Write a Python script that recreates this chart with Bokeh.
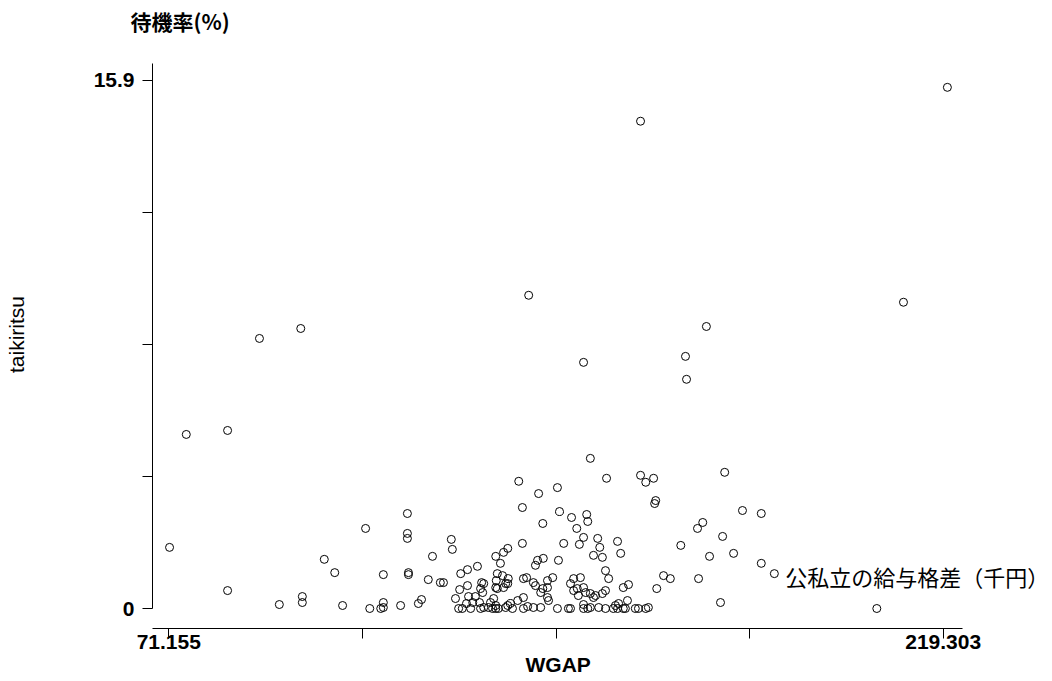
from bokeh.plotting import figure
from bokeh.models import Range1d, FixedTicker, Label, Title
from bokeh.embed import file_html
from bokeh.resources import INLINE

# ---- data ----
wgap = [
    220.1, 161.4, 211.7, 140.0, 96.4, 88.5, 174.0, 150.5, 170.0, 170.2, 74.5, 82.4, 151.8,
    71.3, 82.4, 92.3, 96.7, 96.7, 100.9, 102.9, 104.4,
    108.8, 116.8, 116.8, 116.8, 112.2, 117.0, 117.0, 112.2, 112.2, 111.7, 109.6, 115.5, 119.5, 118.9,
    121.6, 125.2, 125.4, 120.8, 123.1, 123.7,
    127.0, 128.3, 130.2, 131.0, 130.8, 128.3, 126.8, 128.5, 129.8, 129.3, 128.1, 130.6, 126.0, 126.6,
    127.3, 128.9, 130.8, 132.3, 133.1,
    133.7, 134.6, 135.2, 136.0, 138.8, 138.1, 138.8, 135.0, 136.1, 136.0, 134.0, 133.8, 134.0, 135.6,
    135.2, 133.7, 131.4, 131.2, 133.3, 132.7, 133.7, 131.4, 133.7, 134.2, 135.6, 136.5, 137.9, 139.0,
    136.0, 136.9, 139.0, 139.6, 139.8, 140.9, 142.3, 139.0,
    141.9, 145.5, 142.7, 145.9, 146.7, 142.8, 141.7, 141.3, 145.7, 144.6, 143.6, 141.3, 142.7, 142.3,
    143.6, 140.9, 143.6, 143.8, 145.5,
    154.9, 148.2, 151.1, 151.3, 149.2, 150.5, 149.7, 153.2, 153.6, 154.1, 152.4, 157.0, 157.6, 154.7,
    155.3, 149.9, 148.6, 148.0, 149.3, 150.5, 149.5, 151.8, 152.8, 154.7, 158.1, 159.1, 158.9, 157.2,
    148.0, 150.5, 151.3, 153.4, 154.7, 156.6, 157.0, 158.5, 148.6, 150.9, 152.4, 151.8, 150.5, 147.6,
    154.1, 156.2, 158.1,
    161.4, 162.4, 163.9, 164.3, 164.1, 177.5, 180.9, 184.5, 173.3, 172.3, 177.1, 169.1, 179.2, 174.6,
    184.5, 187.0, 165.8, 167.1, 172.5, 164.5, 176.7, 160.4, 162.4, 162.9, 161.0, 206.6,
]
taikiritsu = [
    15.69, 14.67, 9.22, 9.43, 8.43, 8.13, 8.49, 7.41, 7.59, 6.90, 5.24, 5.36, 4.52,
    1.84, 0.54, 0.12, 0.36, 0.18, 1.48, 1.08, 0.09,
    2.41, 2.86, 2.26, 2.11, 1.02, 1.08, 1.02, 0.18, 0.03, 0.0, 0.0, 0.09, 0.27, 0.15,
    1.57, 2.08, 1.78, 0.87, 0.78, 0.78,
    1.05, 1.17, 1.27, 0.78, 0.60, 0.69, 0.57, 0.36, 0.36, 0.18, 0.15, 0.18, 0.30, 0.0,
    0.0, 0.0, 0.0, 0.03, 0.0,
    1.57, 1.36, 1.69, 1.81, 1.96, 3.83, 3.04, 0.99, 0.90, 0.75, 0.60, 0.84, 1.05, 0.75,
    0.63, 0.63, 0.75, 0.48, 0.30, 0.18, 0.09, 0.03, 0.0, 0.0, 0.03, 0.15, 0.24, 0.33,
    0.09, 0.0, 0.0, 0.93, 0.06, 0.03, 0.03, 0.90,
    3.46, 3.64, 2.56, 2.92, 1.96, 1.51, 1.45, 1.30, 1.45, 0.93, 0.84, 0.69, 0.60, 0.48,
    0.33, 0.78, 0.63, 0.24, 0.0,
    3.92, 2.74, 2.83, 2.62, 2.41, 2.14, 1.93, 2.11, 1.84, 1.54, 1.60, 2.02, 1.66, 1.14,
    0.90, 0.93, 0.90, 0.75, 0.60, 0.63, 0.39, 0.45, 0.39, 0.54, 0.63, 0.72, 0.24, 0.15,
    0.0, 0.12, 0.0, 0.03, 0.0, 0.09, 0.0, 0.0, 0.54, 0.48, 0.33, 0.03, 0.0, 0.0,
    0.45, 0.0, 0.0,
    4.01, 3.80, 3.92, 3.25, 3.16, 4.10, 2.95, 2.86, 2.59, 2.41, 2.17, 1.90, 1.66, 1.57,
    1.36, 1.05, 0.99, 0.90, 0.90, 0.60, 0.18, 0.0, 0.0, 0.03, 0.0, 0.0,
]
assert len(wgap) == len(taikiritsu)

x_ticks = [71.155, 108.192, 145.229, 182.266, 219.303]
x_tick_labels = ["71.155", "", "", "", "219.303"]
y_ticks = [0, 3.975, 7.95, 11.925, 15.9]
y_tick_labels = ["0", "", "", "", "15.9"]

x_title = "WGAP"
y_title = "taikiritsu"
y_note = "待機率(%)"
x_note = "公私立の給与格差（千円）"

# ---- figure ----
p = figure(width=1052, height=681, output_backend="svg", toolbar_location=None,
           x_range=Range1d(68.037, 240.21), y_range=Range1d(-0.602, 17.10),
           min_border_left=152, min_border_right=0, min_border_top=40, min_border_bottom=53)
p.outline_line_color = None
p.grid.visible = False
p.background_fill_color = "white"
p.border_fill_color = "white"

p.scatter(x=wgap, y=taikiritsu, size=8, marker="circle", fill_color=None,
          line_color="black", line_width=1)

# top-left note as the (left aligned) title
p.title.text = y_note
p.title.align = "left"
p.title.offset = -22
p.title.vertical_align = "middle"
p.title.standoff = 8
p.title.text_font = "Noto Sans CJK JP"
p.title.text_font_style = "bold"
p.title.text_font_size = "21px"
p.title.text_color = "black"

xa = p.xaxis[0]
xa.ticker = FixedTicker(ticks=x_ticks)
xa.major_label_overrides = dict(zip(x_ticks, x_tick_labels))
xa.bounds = (68.037, 222.99)
xa.axis_line_color = "black"
xa.major_tick_line_color = "black"
xa.major_tick_out = 10
xa.major_tick_in = 0
xa.minor_tick_line_color = None
xa.major_label_standoff = -4
xa.major_label_text_font = "Liberation Sans"
xa.major_label_text_font_style = "bold"
xa.major_label_text_font_size = "21px"
xa.major_label_text_color = "black"

p.add_layout(Title(text=x_title, align="left", offset=373, vertical_align="bottom",
                   standoff=-2, text_font="Liberation Sans", text_font_style="bold",
                   text_font_size="21px", text_color="black"), "below")

ya = p.yaxis[0]
ya.ticker = FixedTicker(ticks=y_ticks)
ya.major_label_overrides = dict(zip(y_ticks, y_tick_labels))
ya.bounds = (0, 16.41)
ya.axis_line_color = "black"
ya.major_tick_line_color = "black"
ya.major_tick_out = 10
ya.major_tick_in = 0
ya.minor_tick_line_color = None
ya.major_label_standoff = 8
ya.major_label_text_font = "Liberation Sans"
ya.major_label_text_font_style = "bold"
ya.major_label_text_font_size = "21px"
ya.major_label_text_color = "black"
ya.axis_label = y_title
ya.axis_label_text_font = "Liberation Sans"
ya.axis_label_text_font_style = "normal"
ya.axis_label_text_font_size = "21px"
ya.axis_label_text_color = "black"
ya.axis_label_standoff = 63

p.add_layout(Label(x=189.1, y=0.964, text=x_note, text_font="Noto Sans CJK JP",
                   text_font_size="22px", text_baseline="middle",
                   text_align="left", text_color="black"))

open("out.html", "w").write(file_html(p, INLINE))
